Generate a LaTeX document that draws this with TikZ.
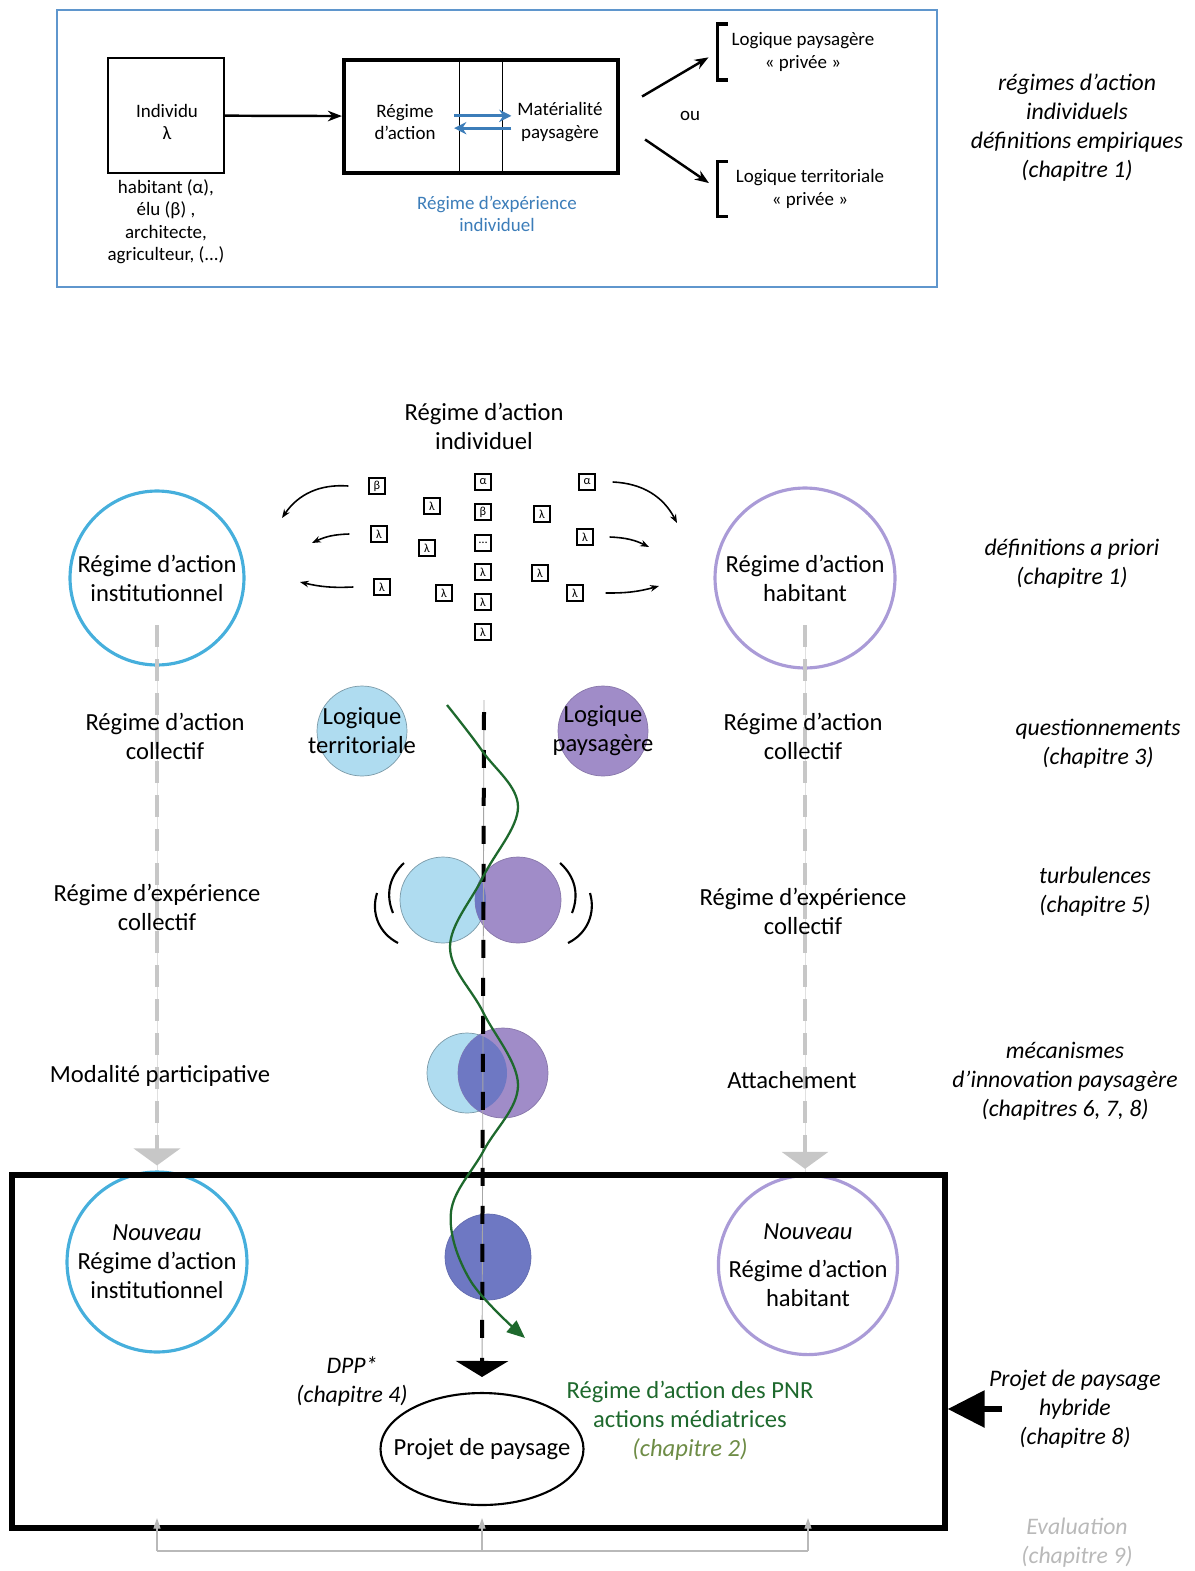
\documentclass[tikz,border=0pt]{standalone}
\usepackage{fontspec}
\setmainfont{Carlito}
\usetikzlibrary{arrows.meta,shapes.geometric,positioning,calc}
\definecolor{frameblue}{RGB}{95,150,205}
\definecolor{expblue}{RGB}{60,125,185}
\definecolor{instblue}{RGB}{70,175,220}
\definecolor{habpurple}{RGB}{170,155,215}
\definecolor{terrfill}{RGB}{175,220,240}
\definecolor{paysfill}{RGB}{160,140,200}
\definecolor{mixfill}{RGB}{110,120,195}
\definecolor{pnrgreen}{RGB}{30,105,45}
\definecolor{chapgreen}{RGB}{110,140,70}
\definecolor{evalgray}{RGB}{185,185,185}
\newcommand\fmain{\fontsize{14}{16.5}\selectfont}
\newcommand\fnote{\fontsize{13.5}{16.5}\selectfont}
\newcommand\fsm{\fontsize{10.8}{12.8}\selectfont}
\begin{document}
\begin{tikzpicture}[x=0.02cm, y=-0.02cm,
    lbl/.style={align=center, font=\fmain, inner sep=1pt},
    note/.style={align=center, font=\fnote\itshape, inner sep=1pt},
    small/.style={align=center, font=\fsm, inner sep=1pt},
    ring/.style={circle, draw, line width=1.8pt, align=center, font=\fmain, inner sep=0pt},
    disc/.style={circle, inner sep=0pt, align=center, font=\fmain},
    greek/.style={draw, line width=0.8pt, minimum size=0.32cm, inner sep=0pt, font=\fontsize{7}{8}\selectfont},
    arr/.style={-{Stealth[length=8pt]}, line width=1.4pt},
    curv/.style={-{Stealth[length=5pt]}, line width=0.9pt},
    dbl/.style={-{Stealth[length=7pt,width=7pt]}, line width=1.8pt, expblue},
    gline/.style={line width=0.09cm, black!22, dash pattern=on 0.44cm off 0.24cm},
    bline/.style={line width=0.08cm, dash pattern=on 0.36cm off 0.4cm},
    evarr/.style={-{Triangle[width=4pt,length=6pt]}, evalgray, line width=0.6pt}
]
\useasboundingbox (0,0) rectangle (1195,1571);

\node[draw=frameblue, line width=1.2pt, minimum width=17.6cm, minimum height=5.54cm] (top) at (497,148.5) {};
\node[draw, line width=1pt, minimum width=2.32cm, minimum height=2.3cm] (indiv) at (166,115.5) {};
\node[small] (indivtxt) at (167,122) {Individu\\λ};
\node[small, below=2pt of indiv] (roles) {habitant (α),\\élu (β) ,\\architecte,\\agriculteur, (...)};
\node[draw, line width=2.4pt, minimum width=5.48cm, minimum height=2.26cm] (regime) at (481,116.5) {};
\node[small, minimum width=2.16cm] (ra) at (405,122) {Régime\\d’action};
\node[small, minimum width=2.28cm] (mp) at (560,122) {Matérialité\\paysagère};
\draw[line width=0.8pt] (ra.east |- regime.north) -- (ra.east |- regime.south);
\draw[line width=0.8pt] (mp.west |- regime.north) -- (mp.west |- regime.south);
\draw[dbl, shorten <=-3pt, shorten >=-5pt] ([yshift=3.5pt]ra.east) -- ([yshift=3.5pt]mp.west);
\draw[dbl, shorten <=-5pt, shorten >=-3pt] ([yshift=-3.5pt]mp.west) -- ([yshift=-3.5pt]ra.east);
\node[small, text=expblue] (expind) at (497,214) {Régime d’expérience\\individuel};
\draw[arr] (indiv) -- (regime);
\node[small, minimum width=3.4cm, minimum height=1.1cm] (lp) at (803,52) {Logique paysagère\\« privée »};
\node[small, minimum width=3.68cm, minimum height=1.08cm] (lt) at (810,189) {Logique territoriale\\« privée »};
\draw[line width=2pt] ([xshift=0.2cm]lp.north west) -| (lp.south west) -- ++(10,0);
\draw[line width=2pt] ([xshift=0.2cm]lt.north west) -| (lt.south west) -- ++(10,0);
\draw[arr, shorten >=6pt] ([shift={(0.44cm,0.4cm)}]regime.east) -- (lp.west);
\draw[arr, shorten >=6pt] ([shift={(0.5cm,-0.46cm)}]regime.east) -- (lt.west);
\node[small] (ou) at (690,116) {ou};
\node[note] (n1) at (1077,128) {régimes d’action\\individuels\\définitions empiriques\\(chapitre 1)};

\node[lbl] (rind) at (484,426) {Régime d’action\\individuel};
\foreach \x/\y/\t [count=\i] in {377/486/β, 432/506/λ, 379/534/λ, 427/548/λ, 382/587/λ, 444/593/λ,
    483/482/α, 483/512/β, 483/543/…, 483/572/λ, 483/602/λ, 483/632/λ,
    587/482/α, 542/514/λ, 585/537/λ, 540/573/λ, 575/593/λ}
  \node[greek] (g\i) at (\x,\y) {\t};
\coordinate (e1) at (282,518);
\coordinate (e2) at (312,543);
\coordinate (e3) at (300,582);
\coordinate (e4) at (677,523);
\coordinate (e5) at (649,547);
\coordinate (e6) at (659,586);
\draw[curv] ([xshift=-0.4cm]g1.west) to[bend right=30] (e1);
\draw[curv] ([xshift=-0.42cm]g3.west) to[bend right=12] (e2);
\draw[curv] ([xshift=-0.4cm]g5.west) to[bend left=8] (e3);
\draw[curv] ([xshift=0.34cm]g13.east) to[bend left=30] (e4);
\draw[curv] ([xshift=0.32cm]g15.east) to[bend left=12] (e5);
\draw[curv] ([xshift=0.44cm]g17.east) to[bend right=8] (e6);

\node[ring, draw=instblue, minimum size=3.48cm] (inst) at (157,578) {Régime d’action\\institutionnel};
\node[ring, draw=habpurple, minimum size=3.6cm] (hab) at (805,578) {Régime d’action\\habitant};
\node[note] (n2) at (1072,564) {définitions a priori\\(chapitre 1)};

\node[ring, draw=instblue, minimum size=3.6cm] (ninst) at (157,1262) {\textit{Nouveau}\\Régime d’action\\institutionnel};
\node[ring, draw=habpurple, minimum size=3.56cm] (nhab) at (808,1265) {\textit{Nouveau}\\[5pt]Régime d’action\\habitant};

\draw[black!12, line width=0.5pt] ([yshift=-0.95cm]inst.center) -- (ninst.north);
\draw[black!12, line width=0.5pt] ([yshift=-0.95cm]hab.center) -- (hab.center |- nhab.north);
\draw[gline, -{Triangle[width=0.92cm,length=0.34cm]}] ([yshift=-0.95cm]inst.center) -- ([yshift=0.1cm]ninst.north);
\draw[gline, -{Triangle[width=0.92cm,length=0.34cm]}] ([yshift=-0.95cm]hab.center) -- ([yshift=0.1cm]hab.center |- nhab.north);

\node[lbl] (c1) at (165,736) {Régime d’action\\collectif};
\node[lbl] (c2) at (157,907) {Régime d’expérience\\collectif};
\node[lbl] (c3) at (160,1076) {Modalité participative};
\node[lbl] (c4) at (803,736) {Régime d’action\\collectif};
\node[lbl] (c5) at (803,911) {Régime d’expérience\\collectif};
\node[lbl] (c6) at (792,1080) {Attachement};

\node[note] (n3) at (1098,744) {questionnements\\(chapitre 3)};
\node[note] (n4) at (1095,892) {turbulences\\(chapitre 5)};
\node[note] (n5) at (1065,1081) {mécanismes\\d’innovation paysagère\\(chapitres 6, 7, 8)};

\node[disc, fill=terrfill, draw=terrfill!70!black, minimum size=1.8cm] (terr) at (362,731) {};
\node[disc, fill=paysfill, draw=paysfill!85!black, minimum size=1.8cm] (pays) at (603,731) {};
\node[disc, fill=terrfill, draw=terrfill!70!black, minimum size=1.72cm] (tb) at (443,900) {};
\node[disc, fill=paysfill, draw=paysfill!85!black, minimum size=1.72cm] (tp) at (518,900) {};
\begin{scope}
  \clip (tb.center) circle (0.86cm);
  \fill[mixfill] (tp.center) circle (0.86cm);
\end{scope}
\node[disc, fill=terrfill, draw=terrfill!70!black, minimum size=1.6cm] (mb) at (467,1073) {};
\node[disc, fill=paysfill, draw=paysfill!85!black, minimum size=1.8cm] (mq) at (503,1073) {};
\begin{scope}
  \clip (mb.center) circle (0.8cm);
  \fill[mixfill] (mq.center) circle (0.9cm);
\end{scope}
\node[disc, fill=mixfill, draw=mixfill!90!black, minimum size=1.72cm] (fin) at (488,1257) {};
\node[lbl] (lterr) at (terr) {Logique\\territoriale};
\node[lbl] (lpays) at (pays) {Logique\\paysagère};

\draw[line width=1.2pt] (404,863) to[bend right=35] (393,913);
\draw[line width=1.2pt] (377,893) to[bend right=40] (398,943);
\draw[line width=1.2pt] (560,863) to[bend left=35] (572,913);
\draw[line width=1.2pt] (590,893) to[bend left=40] (568,943);

\node[draw, line width=0.11cm, minimum width=18.66cm, minimum height=7.06cm] (frame) at (478.5,1351.5) {};
\node[ellipse, draw, line width=1.2pt, minimum width=4.04cm, minimum height=2.24cm, inner xsep=-0.33cm, inner ysep=0pt, font=\fmain] (pp) at (482,1449) {Projet de paysage};

\coordinate (axtop) at (484,700);
\draw[black!35, line width=0.5pt] (axtop) -- ([yshift=0.3cm]pp.north);
\draw[bline, -{Triangle[width=1.04cm,length=0.32cm]}] ([yshift=-0.24cm]axtop) -- ([yshift=0.3cm]pp.north);
\draw[pnrgreen, line width=1.3pt, -{Triangle[width=0.3cm,length=0.36cm]}] plot[smooth, tension=0.6] coordinates {(447,705) (483,752) (518,807) (483,877) (450,947) (483,1012) (518,1085) (484,1150) (451,1212) (470,1280) (525,1338)};

\node[note] (dpp) at (352,1381) {DPP*\\(chapitre 4)};
\node[lbl, text=pnrgreen] (pnr) at (690,1421) {Régime d’action des PNR\\actions médiatrices\\\textcolor{chapgreen}{\textit{(chapitre 2)}}};
\node[note] (hyb) at (1075,1409) {Projet de paysage\\hybride\\(chapitre 8)};
\draw[line width=0.12cm, -{Triangle[width=0.72cm,length=0.74cm]}] ([xshift=0.3cm]hyb.west) -- (hyb.west -| frame.east);

\node[note, text=evalgray] (eval) at (1077,1543) {Evaluation\\(chapitre 9)};
\coordinate (evbase) at (0,1551);
\draw[evalgray, line width=0.6pt] (ninst |- evbase) -- (nhab |- evbase);
\draw[evarr] (ninst |- evbase) -- ++(0,-33);
\draw[evarr] (pp |- evbase) -- ++(0,-33);
\draw[evarr] (nhab |- evbase) -- ++(0,-33);
\end{tikzpicture}
\end{document}
